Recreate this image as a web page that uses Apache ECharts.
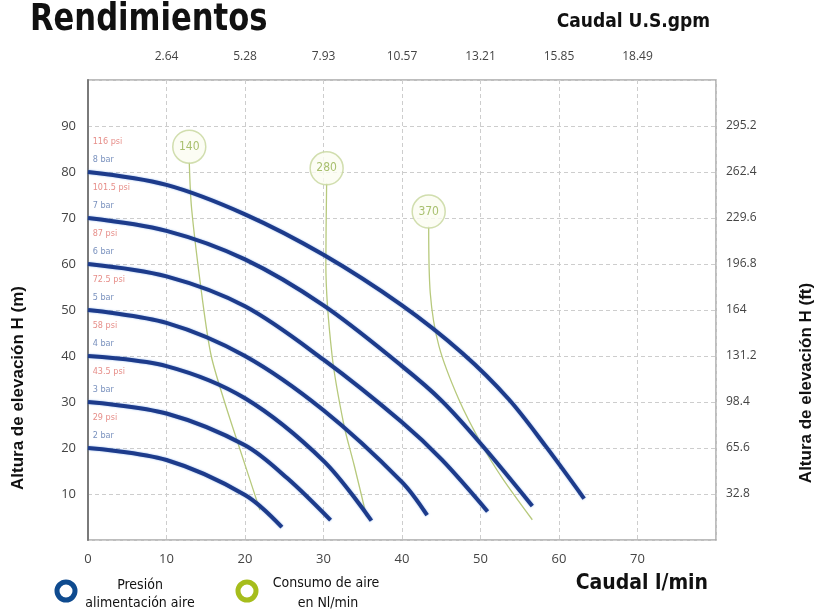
<!DOCTYPE html>
<html>
<head>
<meta charset="utf-8">
<script src="https://cdn.jsdelivr.net/npm/echarts@6/dist/echarts.min.js"></script>
<style>
  html, body { margin: 0; padding: 0; background: #fff; }
  #chart { width: 818px; height: 612px; }
</style>
</head>
<body>
<div id="chart"></div>
<script>
// Pump head curves: flow (l/min) vs head (m), one curve per supply pressure
var pressureBar = ['8 bar', '7 bar', '6 bar', '5 bar', '4 bar', '3 bar', '2 bar'];
var pressurePsi = ['116 psi', '101.5 psi', '87 psi', '72.5 psi', '58 psi', '43.5 psi', '29 psi'];
var shutOffHead = [80, 70, 60, 50, 40, 30, 20];

var curve8bar = [[0, 80], [10, 77.2], [20, 70.8], [30, 62], [40, 51], [47.7, 40.6], [53.6, 30.6], [58.3, 20.4], [63.2, 9]];
var curve7bar = [[0, 70], [10, 67.2], [20, 61], [30, 51], [40, 37.8], [45.1, 30.2], [50.2, 20.6], [56.6, 7.4]];
var curve6bar = [[0, 60], [10, 57.3], [20, 50.8], [30, 39.2], [40, 25.6], [45.1, 17.4], [50.9, 6.2]];
var curve5bar = [[0, 50], [10, 47.2], [20, 40], [30, 28.2], [40, 12.6], [43.2, 5.4]];
var curve4bar = [[0, 40], [10, 37.8], [20, 30.8], [30, 17.2], [36.1, 4.2]];
var curve3bar = [[0, 30], [10, 27.5], [20, 20.6], [25.4, 13.4], [30.9, 4.3]];
var curve2bar = [[0, 20], [10, 17.4], [20, 9.8], [24.7, 2.8]];
var pressureCurves = [curve8bar, curve7bar, curve6bar, curve5bar, curve4bar, curve3bar, curve2bar];

// Air consumption lines (Nl/min) with their tag bubbles
var airLabels = ['140', '280', '370'];
var airTags = [[12.9, 85.5], [30.4, 80.8], [43.4, 71.4]];
var air140 = [[12.9, 82.2], [13.2, 72], [14.6, 52], [15.7, 40], [17.4, 30], [19.3, 20], [21.9, 6.5]];
var air280 = [[30.4, 77.6], [30.3, 60], [31.1, 40], [32.6, 25], [33.9, 16.3], [35.5, 5]];
var air370 = [[43.4, 68.2], [43.6, 53.7], [44.7, 42.2], [47.2, 30.7], [50.2, 20.6], [52.8, 13.4], [56.6, 4.4]];
var airLines = [air140, air280, air370];

// Tick labels
var flowTicks = ['0', '10', '20', '30', '40', '50', '60', '70'];
var gpmTicks = ['', '2.64', '5.28', '7.93', '10.57', '13.21', '15.85', '18.49'];
var headTicks = ['', '10', '20', '30', '40', '50', '60', '70', '80', '90'];
var feetTicks = ['', '32.8', '65.6', '98.4', '131.2', '164', '196.8', '229.6', '262.4', '295.2'];

var tickFont = '"Open Sans", "DejaVu Sans", sans-serif';
var narrowFont = '"Liberation Sans Narrow", "DejaVu Sans Condensed", "Liberation Sans", sans-serif';

function pick(arr, step) {
  return function (v) {
    var i = Math.round(v / step);
    return arr[i] !== undefined ? arr[i] : '';
  };
}

var gridLine = { show: true, lineStyle: { color: '#cdcdcd', type: [4, 3], width: 1 } };

var series = [];
pressureCurves.forEach(function (d, i) {
  series.push({
    name: pressureBar[i], type: 'line', data: d, smooth: 0.33, symbol: 'none',
    xAxisIndex: 0, yAxisIndex: 0, z: 5,
    lineStyle: { color: '#1d3b8b', width: 4, shadowBlur: 2, shadowColor: 'rgba(70,130,220,0.6)' }
  });
});
airLines.forEach(function (d, i) {
  series.push({
    name: airLabels[i] + ' Nl/min', type: 'line', data: d, smooth: 0.3, symbol: 'none',
    xAxisIndex: 0, yAxisIndex: 0, z: 4,
    lineStyle: { color: '#b7c97c', width: 1.3 }
  });
});
series.push({
  type: 'scatter', xAxisIndex: 0, yAxisIndex: 0, z: 6,
  data: airTags.map(function (p, i) { return { value: p, name: airLabels[i] }; }),
  symbol: 'circle', symbolSize: 33,
  itemStyle: { color: '#fbfdf1', borderColor: '#c6d69b', borderWidth: 1.5 },
  label: { show: true, position: 'inside', formatter: '{b}', color: '#93b04e', fontSize: 12, fontFamily: narrowFont }
});
// Pressure tags next to each curve start
series.push({
  type: 'scatter', xAxisIndex: 0, yAxisIndex: 0, z: 6, symbolSize: 0,
  data: shutOffHead.map(function (h, i) { return { value: [0.6, h + 6.7], name: pressurePsi[i] }; }),
  label: { show: true, position: 'right', distance: 0, formatter: '{b}', color: '#e0706a', fontSize: 9, fontFamily: narrowFont }
});
series.push({
  type: 'scatter', xAxisIndex: 0, yAxisIndex: 0, z: 6, symbolSize: 0,
  data: shutOffHead.map(function (h, i) { return { value: [0.6, h + 2.6], name: pressureBar[i] }; }),
  label: { show: true, position: 'right', distance: 0, formatter: '{b}', color: '#5674ad', fontSize: 9, fontFamily: narrowFont }
});

var option = {
  backgroundColor: '#ffffff',
  animation: false,
  grid: { left: 88, right: 102, top: 80, bottom: 72, show: true, borderColor: '#a8a8a8', borderWidth: 1.5, backgroundColor: 'transparent' },
  xAxis: [
    {
      type: 'value', position: 'bottom', min: 0, max: 80, interval: 10,
      axisLine: { show: false }, axisTick: { show: false },
      axisLabel: { formatter: pick(flowTicks, 10), color: '#444', fontSize: 13, fontFamily: tickFont, margin: 13 },
      splitLine: gridLine
    },
    {
      type: 'value', position: 'top', min: 0, max: 80, interval: 10,
      axisLine: { show: false }, axisTick: { show: false },
      axisLabel: { formatter: pick(gpmTicks, 10), color: '#444', fontSize: 12, fontFamily: tickFont, margin: 17 },
      splitLine: { show: false }
    }
  ],
  yAxis: [
    {
      type: 'value', position: 'left', min: 0, max: 100, interval: 10,
      axisLine: { show: true, lineStyle: { color: '#7a7a7a', width: 2 } }, axisTick: { show: false },
      axisLabel: { formatter: pick(headTicks, 10), color: '#444', fontSize: 13, fontFamily: tickFont, margin: 12 },
      splitLine: gridLine
    },
    {
      type: 'value', position: 'right', min: 0, max: 100, interval: 10,
      axisLine: { show: false }, axisTick: { show: false },
      axisLabel: { formatter: pick(feetTicks, 10), color: '#444', fontSize: 12, fontFamily: tickFont, margin: 10 },
      splitLine: { show: false }
    }
  ],
  graphic: [
    { type: 'text', x: 30, y: 20, scaleX: 0.92, style: { text: 'Rendimientos', font: 'bold 37px ' + narrowFont, fill: '#111', textAlign: 'left', textVerticalAlign: 'middle' } },
    { type: 'text', x: 710, y: 22, style: { text: 'Caudal U.S.gpm', font: 'bold 19px ' + narrowFont, fill: '#111', textAlign: 'right', textVerticalAlign: 'middle' } },
    { type: 'text', x: 708, y: 584, style: { text: 'Caudal l/min', font: 'bold 21px ' + narrowFont, fill: '#111', textAlign: 'right', textVerticalAlign: 'middle' } },
    { type: 'text', x: 18, y: 388, rotation: Math.PI / 2, style: { text: 'Altura de elevación H (m)', font: 'bold 17px "Liberation Sans", Arial, sans-serif', fill: '#111', textAlign: 'center', textVerticalAlign: 'middle' } },
    { type: 'text', x: 806, y: 383, rotation: Math.PI / 2, style: { text: 'Altura de elevación H (ft)', font: 'bold 17px "Liberation Sans", Arial, sans-serif', fill: '#111', textAlign: 'center', textVerticalAlign: 'middle' } },
    { type: 'circle', shape: { cx: 66, cy: 591, r: 9 }, style: { fill: 'none', stroke: '#0f4b8f', lineWidth: 5 } },
    { type: 'text', x: 140, y: 585, style: { text: 'Presión', font: '14px ' + narrowFont, fill: '#111', textAlign: 'center', textVerticalAlign: 'middle' } },
    { type: 'text', x: 140, y: 603, style: { text: 'alimentación aire', font: '14px ' + narrowFont, fill: '#111', textAlign: 'center', textVerticalAlign: 'middle' } },
    { type: 'circle', shape: { cx: 247, cy: 591, r: 9 }, style: { fill: 'none', stroke: '#a6bd1c', lineWidth: 5 } },
    { type: 'text', x: 326, y: 583, style: { text: 'Consumo de aire', font: '14px ' + narrowFont, fill: '#111', textAlign: 'center', textVerticalAlign: 'middle' } },
    { type: 'text', x: 328, y: 603, style: { text: 'en Nl/min', font: '14px ' + narrowFont, fill: '#111', textAlign: 'center', textVerticalAlign: 'middle' } }
  ],
  series: series
};

var chart = echarts.init(document.getElementById('chart'), null, { renderer: 'canvas' });
chart.setOption(option);
</script>
</body>
</html>
